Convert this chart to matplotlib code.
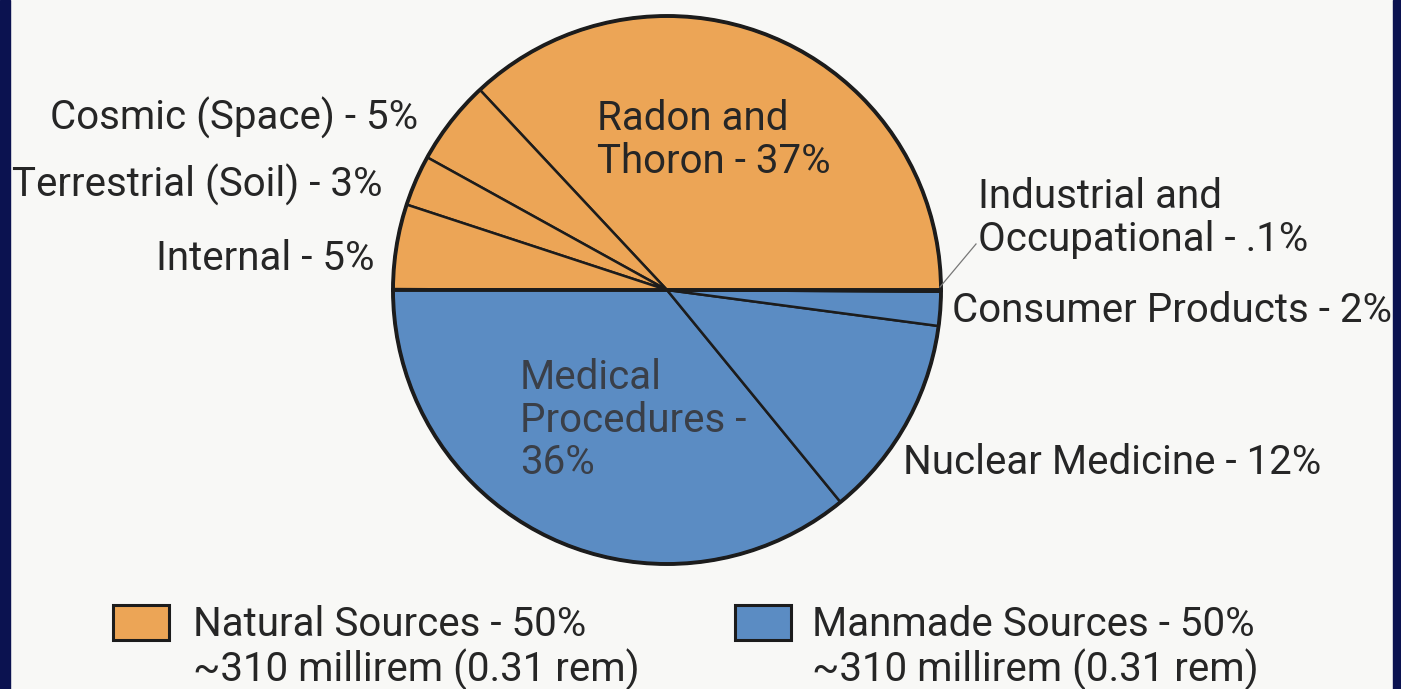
import matplotlib
matplotlib.use("Agg")
import matplotlib.pyplot as plt
from matplotlib.patches import Rectangle, Circle

# slices, counterclockwise from 3 o'clock
names = ["Radon and\nThoron - 37%", "Cosmic (Space) - 5%", "Terrestrial (Soil) - 3%",
         "Internal - 5%", "Medical\nProcedures -\n36%", "Nuclear Medicine - 12%",
         "Consumer Products - 2%", "Industrial and\nOccupational - .1%"]
shares = [37, 5, 3, 5, 36, 12, 2, 0.1]
groups = ["natural", "natural", "natural", "natural", "manmade", "manmade", "manmade", "manmade"]

legend_labels = ["Natural Sources - 50%\n~310 millirem (0.31 rem)",
                 "Manmade Sources - 50%\n~310 millirem (0.31 rem)"]

ORANGE = "#eca556"
BLUE = "#5b8cc3"
TEXT = "#262626"
colors = {"natural": ORANGE, "manmade": BLUE}

plt.rcParams["font.family"] = ["Roboto", "DejaVu Sans"]

W, H = 1401, 689
fig = plt.figure(figsize=(W / 100, H / 100), dpi=100)
fig.patch.set_facecolor("#f8f8f6")
ax = fig.add_axes([0, 0, 1, 1])

cx, cy, r = 667, 290, 274

# inverted y axis -> clockwise in data is counterclockwise on screen
wedges, _ = ax.pie(shares, colors=[colors[g] for g in groups], startangle=0,
                   counterclock=False, center=(cx, cy), radius=r, frame=True,
                   wedgeprops=dict(edgecolor="#1c1c1c", linewidth=1.8))
ax.set_xlim(0, W)
ax.set_ylim(H, 0)
ax.set_aspect("auto")
ax.axis("off")

# dark frame strips left and right
ax.add_patch(Rectangle((0, 0), 10, H, color="#0b1250", zorder=5))
ax.add_patch(Rectangle((W - 8, 0), 8, H, color="#0b1250", zorder=5))

# outer rim and half split a bit heavier
ax.add_patch(Circle((cx, cy), r, fill=False, edgecolor="#1c1c1c", linewidth=2.8, zorder=3))
ax.plot([cx - r, cx + r], [cy, cy], color="#1c1c1c", linewidth=2.8, zorder=3)

fs = 29
# label positions (x, y, ha)
pos = [(597, 140, "left"), (418, 118, "right"), (383, 185, "right"), (375, 258, "right"),
       (520, 420, "left"), (903, 463, "left"), (952, 311, "left"), (978, 218, "left")]
for txt, (x, y, ha), g in zip(names, pos, groups):
    col = "#3a3f48" if txt.startswith("Medical") else TEXT
    ax.text(x, y, txt, ha=ha, va="center", fontsize=fs, color=col,
            linespacing=1.12, zorder=4)

# leader for the tiny industrial slice
ax.plot([940, 976], [287, 244], color="#777777", linewidth=0.9, zorder=4)

# legend
for (bx, tx), g, lab in zip([(113, 193), (735, 812)], ["natural", "manmade"], legend_labels):
    ax.add_patch(Rectangle((bx, 605), 56, 35, facecolor=colors[g],
                           edgecolor="#1c1c1c", linewidth=2.2, zorder=4))
    ax.text(tx, 648, lab, ha="left", va="center", fontsize=fs, color=TEXT,
            linespacing=1.12, zorder=4)

fig.savefig("out.png", dpi=100, facecolor=fig.get_facecolor())
